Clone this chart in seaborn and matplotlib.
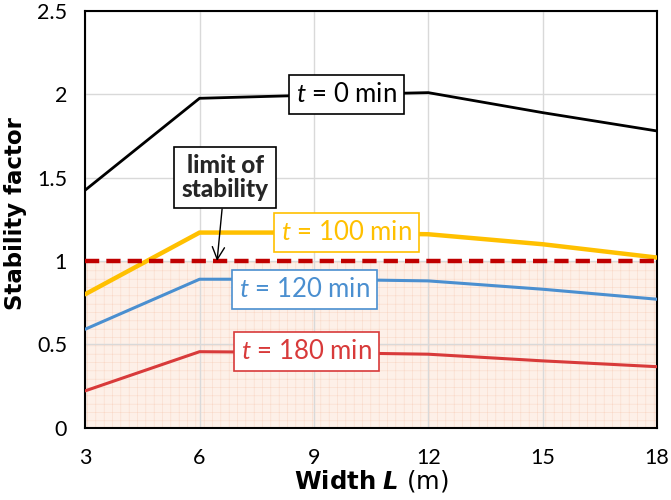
import matplotlib
matplotlib.use("Agg")
import matplotlib.pyplot as plt
import seaborn as sns
import pandas as pd

# Width of the structure (m)
width_L = [3, 6, 9, 12, 15, 18]

# Stability factor at each fire exposure time
sf_0 = [1.425, 1.976, 1.995, 2.01, 1.89, 1.78]
sf_100 = [0.80, 1.17, 1.17, 1.16, 1.10, 1.02]
sf_120 = [0.59, 0.89, 0.89, 0.88, 0.83, 0.77]
sf_180 = [0.22, 0.455, 0.45, 0.44, 0.40, 0.365]

series_names = ["0", "100", "120", "180"]
series_values = [sf_0, sf_100, sf_120, sf_180]
series_colors = ["#000000", "#ffc000", "#4a8fd0", "#d83a3a"]
series_widths = [2.0, 3.2, 2.2, 2.2]

limit_value = 1.0

x_ticks = [3, 6, 9, 12, 15, 18]
y_ticks = [0, 0.5, 1, 1.5, 2, 2.5]
y_tick_labels = ["0", "0.5", "1", "1.5", "2", "2.5"]

rows = []
for name, vals in zip(series_names, series_values):
    for x, v in zip(width_L, vals):
        rows.append({"L": x, "SF": v, "t": name})
df = pd.DataFrame(rows)

sns.set_theme(style="white")
plt.rcParams["font.family"] = ["Lato", "DejaVu Sans"]
plt.rcParams["mathtext.fontset"] = "custom"
plt.rcParams["mathtext.rm"] = "DejaVu Sans"
plt.rcParams["mathtext.it"] = "Lato:italic"
plt.rcParams["mathtext.bf"] = "DejaVu Sans:bold"
plt.rcParams["mathtext.bfit"] = "DejaVu Sans:bold:italic"
plt.rcParams["hatch.color"] = "#f7cbb5"
plt.rcParams["hatch.linewidth"] = 0.4

fig, ax = plt.subplots(figsize=(6.71, 5.0), dpi=100)
fig.subplots_adjust(left=0.127, right=0.979, top=0.978, bottom=0.145)

# unstable region below the limit
ax.fill_between([3, 18], 0, limit_value, facecolor="#fdf0e8", edgecolor="#f9d9c8",
                hatch="++", linewidth=0, zorder=0)

sns.lineplot(data=df, x="L", y="SF", hue="t", hue_order=series_names,
             palette=dict(zip(series_names, series_colors)), legend=False,
             ax=ax, zorder=3)
for line, lw in zip(ax.get_lines(), series_widths):
    line.set_linewidth(lw)
    line.set_solid_joinstyle("miter")

ax.axhline(limit_value, color="#c00000", lw=3.2, ls=(0, (3.2, 1.6)), zorder=4)

ax.set_xlim(3, 18)
ax.set_ylim(0, 2.5)
ax.set_xticks(x_ticks)
ax.set_yticks(y_ticks)
ax.set_yticklabels(y_tick_labels)
ax.grid(True, color="#d9d9d9", lw=1.0, zorder=1)
ax.set_axisbelow(True)
ax.tick_params(axis="both", labelsize=15.5, length=0, labelcolor="black")
ax.tick_params(axis="y", pad=13)
ax.tick_params(axis="x", pad=15)
for s in ax.spines.values():
    s.set_color("black")
    s.set_linewidth(1.5)

ax.set_ylabel("Stability factor", fontsize=16.5, fontweight="bold", color="black",
              family="DejaVu Sans")
ax.yaxis.set_label_coords(-0.102, 0.513)
ax.set_xlabel(r"$\bf{Width}$ $\bfit{L}$ (m)", fontsize=17.5, color="black",
              family="DejaVu Sans", labelpad=0)

label_pos = [(9.85, 2.0), (9.85, 1.17), (8.75, 0.83), (8.8, 0.455)]
for name, col, (lx, ly) in zip(series_names, series_colors, label_pos):
    ax.text(lx, ly, r"$\it{t}$ = " + name + " min", color=col, fontsize=18.5,
            ha="center", va="center", zorder=6,
            bbox=dict(boxstyle="square,pad=0.28", fc="white", ec=col, lw=1.2))

ax.annotate("limit of\nstability", xy=(6.46, limit_value), xytext=(6.67, 1.5),
            fontsize=17.5, fontweight="black", ha="center", va="center",
            linespacing=1.05, zorder=6,
            bbox=dict(boxstyle="square,pad=0.3", fc="white", ec="black", lw=1.2),
            arrowprops=dict(arrowstyle="->", color="black", lw=1.0,
                            mutation_scale=22, shrinkA=0, shrinkB=0))

fig.savefig("out.png", dpi=100)
